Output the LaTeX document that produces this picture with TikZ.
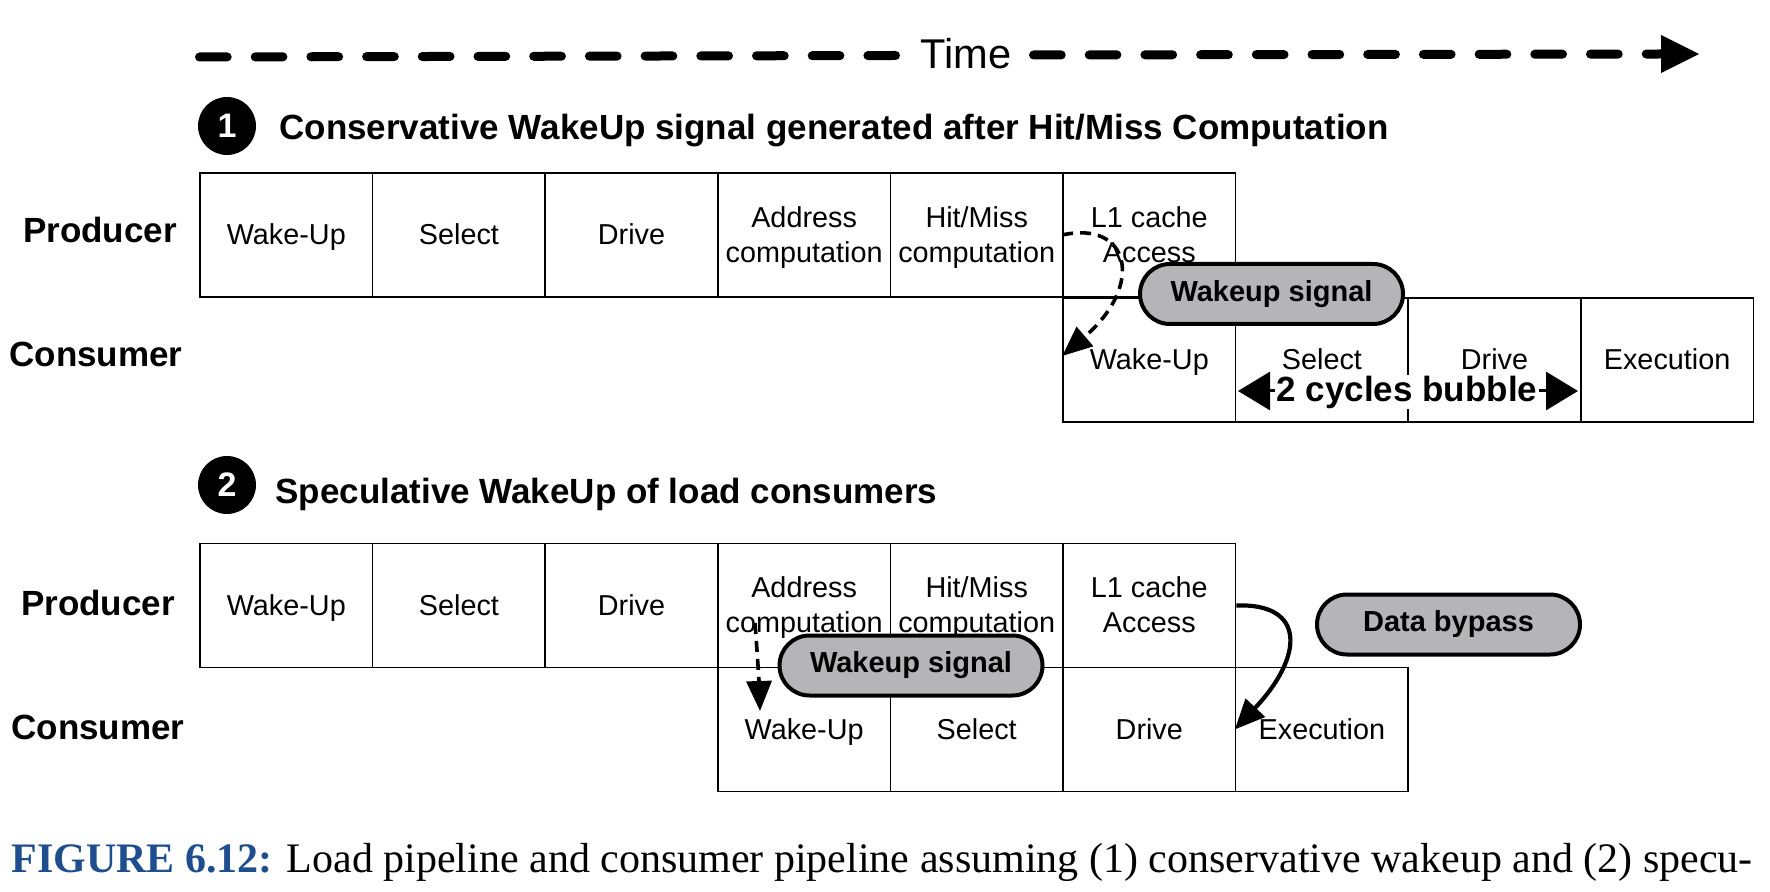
\documentclass[tikz,border=0pt]{standalone}
\usepackage{fontspec}
\setmainfont{Liberation Serif}
\setsansfont{Liberation Sans}
\usetikzlibrary{arrows.meta}
\definecolor{pillgray}{HTML}{B5B5B8}
\definecolor{capblue}{HTML}{1F4E8E}
\newcommand\stgstrut{\rule[-3.4pt]{0pt}{16.6pt}}
\begin{document}
\begin{tikzpicture}[x=0.5pt,y=-0.5pt,
  stage/.style={draw, line width=0.8pt, minimum width=86.3pt, minimum height=62pt, inner sep=0pt, align=center, font=\sffamily\fontsize{14.4}{17.5}\selectfont},
  rowlabel/.style={font=\sffamily\bfseries\fontsize{17.5}{20}\selectfont},
  pill/.style={draw, line width=2pt, fill=pillgray, rounded corners=15pt, minimum width=131.5pt, minimum height=30pt, inner sep=0pt, font=\sffamily\bfseries\fontsize{14.5}{17}\selectfont},
  numcirc/.style={circle, fill=black, minimum size=29pt, inner sep=0pt, text=white, font=\sffamily\bfseries\fontsize{17}{20}\selectfont},
  heading/.style={anchor=west, inner sep=0pt, font=\sffamily\bfseries\fontsize{17.5}{20}\selectfont},
  timeline/.style={line width=4.5pt, line cap=round, dash pattern=on 13.85pt off 14pt},
  dasharrow/.style={line width=1.8pt, dash pattern=on 5.5pt off 3.5pt, -{Triangle[length=15pt,width=12.5pt]}},
  solidarrow/.style={line width=2.1pt, -{Triangle[length=15pt,width=13pt]}},
]
\useasboundingbox (0,0) rectangle (1770,892);

% time arrow
\node[inner sep=0pt, font=\sffamily\fontsize{20.8}{24}\selectfont] (time) at (966,54) {Time};
\coordinate (tla) at (199.5,57);
\coordinate (tlb) at (895.5,55.5);
\coordinate (tra) at (1033.5,55);
\coordinate (trb) at (1663,54);
\coordinate (tip) at (1699,54);
\draw[timeline] (tla) -- (tlb);
\draw[timeline] (tra) -- (trb);
\fill (tip) -- ++(-38,-19) -- ++(0,38) -- cycle;

% section 1
\node[numcirc] (n1) at (227,126) {1};
\node[heading] (h1) at (279,130.5) {Conservative WakeUp signal generated after Hit/Miss Computation};

\node[rowlabel] (prod1) at (100,230) {Producer};
\node[rowlabel] (cons1) at (96,354) {Consumer};

\node[stage] (p1a) at (286.3,235) {\stgstrut Wake-Up};
\node[stage] (p1b) at (458.9,235) {\stgstrut Select};
\node[stage] (p1c) at (631.5,235) {\stgstrut Drive};
\node[stage] (p1d) at (804.1,235) {\stgstrut Address\\computation\stgstrut};
\node[stage] (p1e) at (976.7,235) {\stgstrut Hit/Miss\\computation\stgstrut};
\node[stage] (p1f) at (1149.3,235) {\stgstrut L1 cache\\Access\stgstrut};

\node[stage] (c1a) at (1149.3,360) {\stgstrut Wake-Up};
\node[stage] (c1b) at (1321.9,360) {\stgstrut Select};
\node[stage] (c1c) at (1494.5,360) {\stgstrut Drive};
\node[stage] (c1d) at (1667.1,360) {\stgstrut Execution};

\node[fill=white, inner sep=0.5pt, font=\sffamily\bfseries\fontsize{17.5}{20}\selectfont] (bub) at (1407,392) {2 cycles bubble};
\coordinate (bl) at (1238,391);
\coordinate (br) at (1578,391);
\draw[line width=1.5pt, -{Triangle[length=16pt,width=19pt]}] (bub.west |- bl) -- (bl);
\draw[line width=1.5pt, -{Triangle[length=16pt,width=19pt]}] (bub.east |- br) -- (br);

\draw[dasharrow] (p1f.west) .. controls (1130,220) and (1145,285) .. ([yshift=2pt]c1a.west);
\node[pill] (ws1) at (1271.5,294) {Wakeup signal};

% section 2
\node[numcirc] (n2) at (227,485) {2};
\node[heading] (h2) at (275,494.5) {Speculative WakeUp of load consumers};

\node[rowlabel] (prod2) at (98,603) {Producer};
\node[rowlabel] (cons2) at (98,727) {Consumer};

\node[stage] (p2a) at (286.3,605.5) {\stgstrut Wake-Up};
\node[stage] (p2b) at (458.9,605.5) {\stgstrut Select};
\node[stage] (p2c) at (631.5,605.5) {\stgstrut Drive};
\node[stage] (p2d) at (804.1,605.5) {\stgstrut Address\\computation\stgstrut};
\node[stage] (p2e) at (976.7,605.5) {\stgstrut Hit/Miss\\computation\stgstrut};
\node[stage] (p2f) at (1149.3,605.5) {\stgstrut L1 cache\\Access\stgstrut};

\node[stage] (c2a) at (804.1,729.5) {\stgstrut Wake-Up};
\node[stage] (c2b) at (976.7,729.5) {\stgstrut Select};
\node[stage] (c2c) at (1149.3,729.5) {\stgstrut Drive};
\node[stage] (c2d) at (1321.9,729.5) {\stgstrut Execution};

\coordinate (w2s) at (755,623);
\coordinate (w2e) at (760,711);
\draw[dasharrow] (w2s) .. controls (757,650) and (759,680) .. (w2e);
\node[pill] (ws2) at (911,665.5) {Wakeup signal};

\draw[solidarrow] (p2f.east) .. controls (1305,603) and (1305,655) .. (c2d.west);
\node[pill] (db) at (1448.5,624.5) {Data bypass};

% caption
\node[anchor=base west, inner sep=0pt, font=\fontsize{21}{24}\selectfont] (cap) at (11,872.5) {\textcolor{capblue}{\bfseries FIGURE 6.12:} Load pipeline and consumer pipeline assuming (1) conservative wakeup and (2) specu-};
\end{tikzpicture}
\end{document}
